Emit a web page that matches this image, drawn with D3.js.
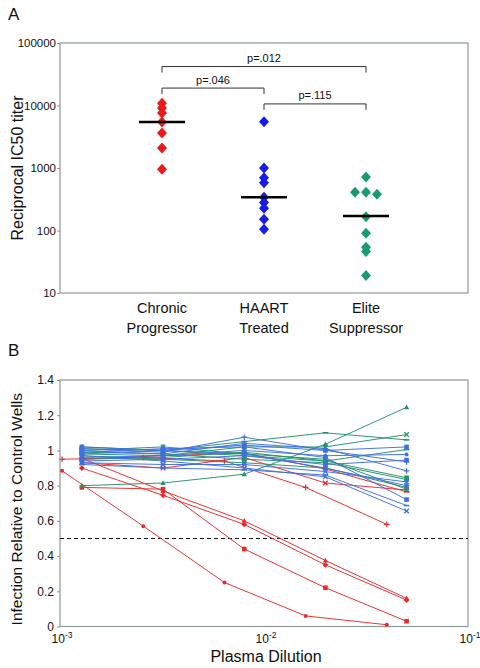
<!DOCTYPE html>
<html>
<head>
<meta charset="utf-8">
<script src="https://cdn.jsdelivr.net/npm/d3@7"></script>
<style>
  html, body { margin: 0; padding: 0; background: #fff; }
  svg { display: block; }
  text { font-family: "Liberation Sans", Arial, sans-serif; fill: #111; }
</style>
</head>
<body>
<svg id="chart" width="480" height="668"></svg>
<script>
// ---------------- DATA ----------------
// Panel A: reciprocal IC50 titers per group
const groups = ["Chronic Progressor", "HAART Treated", "Elite Suppressor"];
const chronicTiters = [10900, 9100, 7600, 5450, 3630, 2090, 955];
const haartTiters   = [5500, 1000, 700, 580, 340, 280, 226, 151, 105];
const eliteTiters   = [720, 410, 410, 380, 166, 90, 54, 46, 19];
const groupMedians  = [5450, 340, 170];
const yTicksA = [10, 100, 1000, 10000, 100000];
// pairwise comparisons: group indices, bracket level (titer), label
const compFrom  = [0, 0, 1];
const compTo    = [2, 1, 2];
const compLevel = [42000, 19000, 10600];
const compLabel = ["p=.012", "p=.046", "p=.115"];

// Panel B: infection relative to control wells vs plasma dilution
const dilutionsMain = [1/781.25, 1/312.5, 1/125, 1/50, 1/20];
const dilutionsAlt  = [1/976.6, 1/390.6, 1/156.25, 1/62.5, 1/25];
const yTicksB = [0, 0.2, 0.4, 0.6, 0.8, 1, 1.2, 1.4];
const xTicksB = [1e-3, 1e-2, 1e-1];
const cutoff = 0.5;

const chronicCurves = [
  [0.79, 0.78, 0.44, 0.22, 0.03],
  [0.955, 0.77, 0.60, 0.375, 0.16],
  [0.90, 0.745, 0.58, 0.35, 0.15],
  [0.93, 0.90, 0.96, 0.815, 0.775],
  [0.95, 0.97, 0.985, 0.895, 0.765]
];
const chronicMarkers = ["square", "triangle", "diamond", "x", "dash"];
const chronicCurvesAlt = [
  [0.95, 0.96, 0.94, 0.79, 0.58],
  [0.884, 0.57, 0.25, 0.06, 0.01]
];
const chronicMarkersAlt = ["plus", "circle"];

const eliteCurves = [
  [0.80, 0.815, 0.865, 1.035, 1.245],
  [1.01, 1.00, 1.05, 1.10, 1.06],
  [0.98, 0.97, 1.02, 1.02, 1.09],
  [0.95, 0.96, 0.99, 0.94, 1.005],
  [1.02, 1.00, 0.97, 0.94, 0.845],
  [0.99, 0.98, 0.95, 0.93, 0.835],
  [0.97, 0.95, 0.93, 0.90, 0.79],
  [1.00, 1.02, 0.98, 0.95, 0.78]
];
const eliteMarkers = ["triangle", "dash", "x", "dash", "square", "square", "x", "star"];

const haartCurves = [
  [1.01, 0.99, 1.075, 1.00, 0.935],
  [0.98, 1.00, 1.03, 1.00, 1.02],
  [0.96, 0.97, 1.00, 0.97, 0.977],
  [0.94, 0.95, 0.97, 0.92, 0.945],
  [1.00, 0.98, 1.04, 1.01, 0.884],
  [0.93, 0.92, 0.92, 0.88, 0.821],
  [0.99, 1.01, 1.02, 0.96, 0.721],
  [0.92, 0.90, 0.89, 0.86, 0.687],
  [0.97, 0.94, 0.90, 0.85, 0.656],
  [1.02, 1.00, 0.98, 0.90, 0.80]
];
const haartMarkers = ["plus", "square", "circle", "square", "plus", "x", "square", "dash", "x", "diamond"];

// ---------------- STYLE ----------------
const dotColors  = ["#ee1818", "#1a1ae6", "#1a9a72"];
const lineRed = "#e82a2a", lineBlue = "#3f6fe2", lineGreen = "#22946a";
const frameColor = "#8a9898";
const font = '"Liberation Sans", Arial, sans-serif';

const svg = d3.select("#chart");

// ================= PANEL A =================
const A = { left: 60, right: 468, top: 43, bottom: 293 };
const xA = d3.scalePoint().domain(groups).range([A.left, A.right]).padding(1);
const yA = d3.scaleLog().domain([10, 100000]).range([A.bottom, A.top]);

svg.append("text").attr("x", 8).attr("y", 20).attr("font-size", 17).text("A");

svg.append("rect").attr("x", A.left).attr("y", A.top)
  .attr("width", A.right - A.left).attr("height", A.bottom - A.top)
  .attr("fill", "none").attr("stroke", frameColor).attr("stroke-width", 1.2);

const axA = d3.axisLeft(yA).tickValues(yTicksA).tickFormat(d3.format("d")).tickSize(3);
const gA = svg.append("g").attr("transform", `translate(${A.left},0)`).call(axA);
gA.select(".domain").remove();
gA.selectAll("line").attr("stroke", frameColor);
gA.selectAll("text").attr("font-size", 11.5).attr("font-family", font).attr("fill", "#111").attr("x", -4);

svg.append("text")
  .attr("transform", `translate(23,${(A.top + A.bottom) / 2}) rotate(-90)`)
  .attr("text-anchor", "middle").attr("font-size", 16).text("Reciprocal IC50 titer");

// category labels
groups.forEach(g => {
  const t = svg.append("text").attr("text-anchor", "middle").attr("font-size", 14.5);
  g.split(" ").forEach((w, i) => {
    t.append("tspan").attr("x", xA(g)).attr("y", 313 + i * 19.5).text(w);
  });
});

// dodge helper for overlapping points
function dodge(values, yScale, minGap) {
  const placed = [];
  const sorted = values.slice().sort((a, b) => b - a);
  const order = [0, -1, 1, -2, 2];
  sorted.forEach(v => {
    const y = yScale(v);
    for (const s of order) {
      if (!placed.some(p => p.slot === s && Math.abs(p.y - y) < minGap)) {
        placed.push({ v, y, slot: s });
        break;
      }
    }
  });
  return placed;
}
const diamondPath = (cx, cy, w, h) => `M${cx},${cy - h}L${cx + w},${cy}L${cx},${cy + h}L${cx - w},${cy}Z`;

[chronicTiters, haartTiters, eliteTiters].forEach((vals, gi) => {
  const pts = dodge(vals, yA, 4);
  const cx = xA(groups[gi]);
  svg.append("g").selectAll("path").data(pts).join("path")
    .attr("d", d => diamondPath(cx + d.slot * 11, d.y, 5, 5.5))
    .attr("fill", dotColors[gi]);
});

// medians
svg.append("g").selectAll("line").data(groupMedians).join("line")
  .attr("x1", (d, i) => xA(groups[i]) - 23).attr("x2", (d, i) => xA(groups[i]) + 23)
  .attr("y1", d => yA(d)).attr("y2", d => yA(d))
  .attr("stroke", "#000").attr("stroke-width", 2.5);

// comparison brackets
compLabel.forEach((lab, i) => {
  const x1 = xA(groups[compFrom[i]]), x2 = xA(groups[compTo[i]]), y = yA(compLevel[i]);
  svg.append("path")
    .attr("d", `M${x1},${y + 6}V${y}H${x2}V${y + 6}`)
    .attr("fill", "none").attr("stroke", "#333").attr("stroke-width", 1);
  svg.append("text").attr("x", (x1 + x2) / 2).attr("y", y - 4.5)
    .attr("text-anchor", "middle").attr("font-size", 11).attr("fill", "#333").text(lab);
});

// ================= PANEL B =================
const B = { left: 60, right: 468, top: 380, bottom: 626.5 };
const xB = d3.scaleLog().domain([1e-3, 1e-1]).range([B.left, B.right]);
const yB = d3.scaleLinear().domain([0, 1.4]).range([B.bottom, B.top]);

svg.append("text").attr("x", 8).attr("y", 356).attr("font-size", 17).text("B");

svg.append("rect").attr("x", B.left).attr("y", B.top)
  .attr("width", B.right - B.left).attr("height", B.bottom - B.top)
  .attr("fill", "none").attr("stroke", frameColor).attr("stroke-width", 1.2);

const axBy = d3.axisLeft(yB).tickValues(yTicksB).tickFormat(d => d3.format("")(+d.toFixed(1))).tickSize(3);
const gBy = svg.append("g").attr("transform", `translate(${B.left},0)`).call(axBy);
gBy.select(".domain").remove();
gBy.selectAll("line").attr("stroke", frameColor);
gBy.selectAll("text").attr("font-size", 12).attr("font-family", font).attr("fill", "#111").attr("x", -6);

// x ticks with superscripts
const gBx = svg.append("g");
xTicksB.forEach(v => {
  const t = gBx.append("text").attr("x", xB(v) + 2).attr("y", 643)
    .attr("text-anchor", "middle").attr("font-size", 12);
  t.append("tspan").text("10");
  t.append("tspan").attr("dy", -5).attr("font-size", 8.5).text(String(Math.round(Math.log10(v))));
});

svg.append("text").attr("x", 266).attr("y", 662).attr("text-anchor", "middle")
  .attr("font-size", 16).text("Plasma Dilution");
svg.append("text")
  .attr("transform", `translate(22,${(B.top + B.bottom) / 2 + 6}) rotate(-90)`)
  .attr("text-anchor", "middle").attr("font-size", 15.5).text("Infection Relative to Control Wells");

// cutoff line
svg.append("line").attr("x1", B.left).attr("x2", B.right)
  .attr("y1", yB(cutoff)).attr("y2", yB(cutoff))
  .attr("stroke", "#111").attr("stroke-width", 1.1).attr("stroke-dasharray", "4,3");

const lineGen = d3.line().x(d => xB(d[0])).y(d => yB(d[1]));

function drawMarker(g, type, x, y, color) {
  const s = 2.3;
  switch (type) {
    case "square":
      g.append("rect").attr("x", x - s).attr("y", y - s).attr("width", 2 * s).attr("height", 2 * s).attr("fill", color); break;
    case "diamond":
      g.append("path").attr("d", diamondPath(x, y, s + 0.6, s + 0.6)).attr("fill", color); break;
    case "triangle":
      g.append("path").attr("d", `M${x},${y - s - 0.5}L${x + s + 0.3},${y + s - 0.3}L${x - s - 0.3},${y + s - 0.3}Z`).attr("fill", color); break;
    case "circle":
      g.append("circle").attr("cx", x).attr("cy", y).attr("r", s - 0.3).attr("fill", color); break;
    case "x":
      g.append("path").attr("d", `M${x - s},${y - s}L${x + s},${y + s}M${x - s},${y + s}L${x + s},${y - s}`).attr("stroke", color).attr("stroke-width", 1.3); break;
    case "plus":
      g.append("path").attr("d", `M${x - s - 0.5},${y}H${x + s + 0.5}M${x},${y - s - 0.5}V${y + s + 0.5}`).attr("stroke", color).attr("stroke-width", 1.2); break;
    case "star":
      g.append("path").attr("d", `M${x - s},${y - s}L${x + s},${y + s}M${x - s},${y + s}L${x + s},${y - s}M${x},${y - s - 0.5}V${y + s + 0.5}`).attr("stroke", color).attr("stroke-width", 1.1); break;
    case "dash":
      g.append("path").attr("d", `M${x - s - 0.5},${y}H${x + s + 0.5}`).attr("stroke", color).attr("stroke-width", 1.6); break;
  }
}

function drawSeries(curves, markers, dil, color) {
  curves.forEach((vals, i) => {
    const g = svg.append("g");
    const pts = vals.map((v, j) => [dil[j], v]);
    g.append("path").attr("d", lineGen(pts)).attr("fill", "none")
      .attr("stroke", color).attr("stroke-width", 1).attr("stroke-opacity", 0.95);
    pts.forEach(p => drawMarker(g, markers[i], xB(p[0]), yB(p[1]), color));
  });
}

drawSeries(chronicCurves, chronicMarkers, dilutionsMain, lineRed);
drawSeries(chronicCurvesAlt, chronicMarkersAlt, dilutionsAlt, lineRed);
drawSeries(eliteCurves, eliteMarkers, dilutionsMain, lineGreen);
drawSeries(haartCurves, haartMarkers, dilutionsMain, lineBlue);
</script>
</body>
</html>
